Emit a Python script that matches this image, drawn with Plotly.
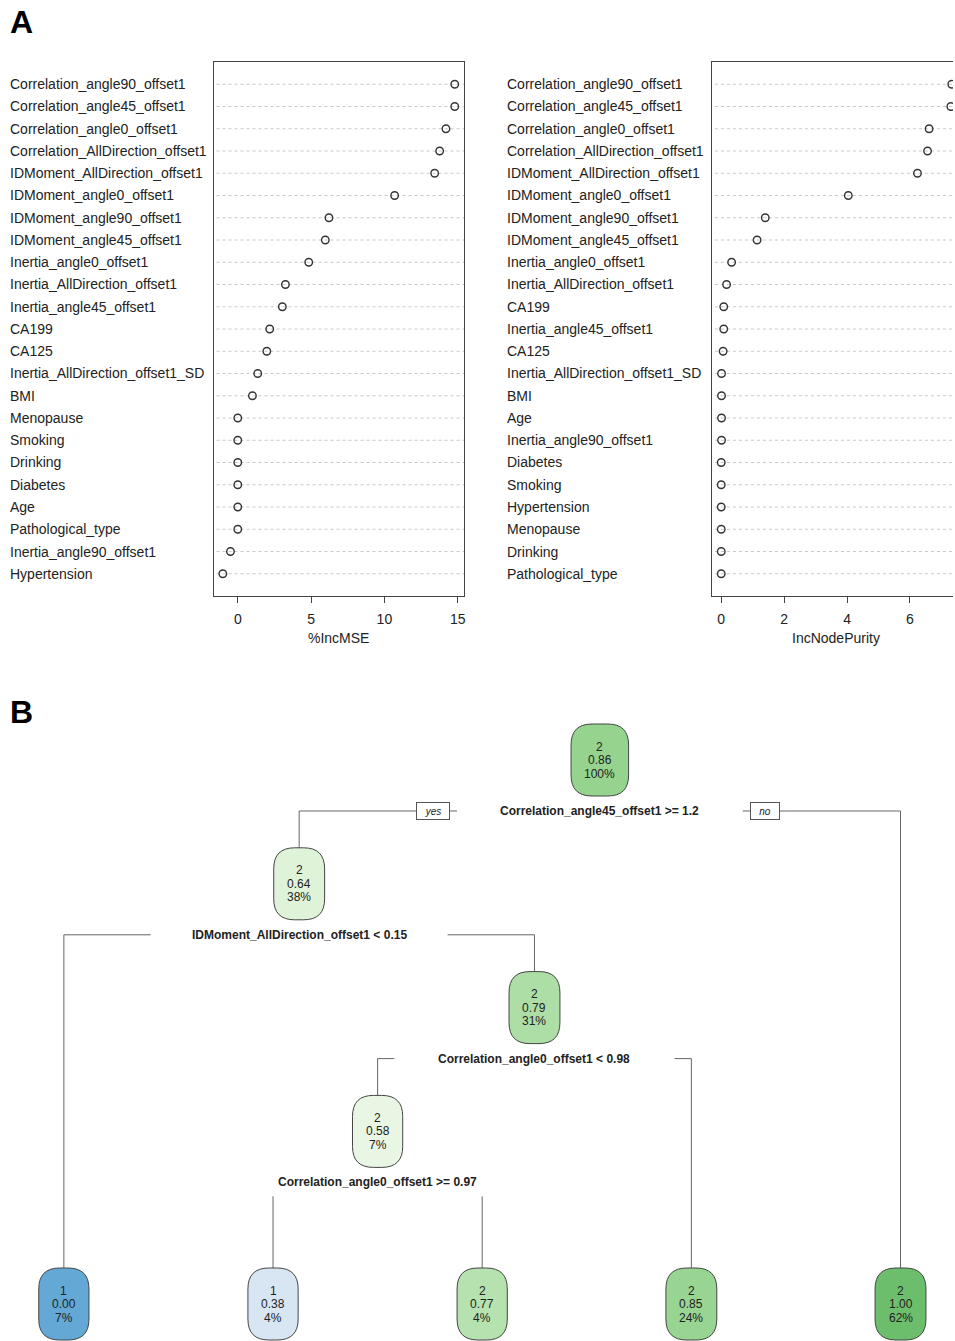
import plotly.graph_objects as go

W, H = 955, 1341
FONT = "Liberation Sans, Arial, Helvetica, sans-serif"
TXT = "#222222"

# ---------------- Panel A data ----------------
mse_vars = ["Correlation_angle90_offset1", "Correlation_angle45_offset1", "Correlation_angle0_offset1",
            "Correlation_AllDirection_offset1", "IDMoment_AllDirection_offset1", "IDMoment_angle0_offset1",
            "IDMoment_angle90_offset1", "IDMoment_angle45_offset1", "Inertia_angle0_offset1",
            "Inertia_AllDirection_offset1", "Inertia_angle45_offset1", "CA199", "CA125",
            "Inertia_AllDirection_offset1_SD", "BMI", "Menopause", "Smoking", "Drinking", "Diabetes",
            "Age", "Pathological_type", "Inertia_angle90_offset1", "Hypertension"]
mse_vals = [14.8, 14.8, 14.2, 13.77, 13.43, 10.7, 6.22, 5.97, 4.84, 3.25, 3.04, 2.18, 1.98,
            1.36, 1.0, 0.0, 0.0, 0.0, 0.0, 0.0, 0.0, -0.5, -1.02]

purity_vars = ["Correlation_angle90_offset1", "Correlation_angle45_offset1", "Correlation_angle0_offset1",
               "Correlation_AllDirection_offset1", "IDMoment_AllDirection_offset1", "IDMoment_angle0_offset1",
               "IDMoment_angle90_offset1", "IDMoment_angle45_offset1", "Inertia_angle0_offset1",
               "Inertia_AllDirection_offset1", "CA199", "Inertia_angle45_offset1", "CA125",
               "Inertia_AllDirection_offset1_SD", "BMI", "Age", "Inertia_angle90_offset1", "Diabetes",
               "Smoking", "Hypertension", "Menopause", "Drinking", "Pathological_type"]
purity_vals = [7.33, 7.30, 6.61, 6.56, 6.24, 4.04, 1.40, 1.14, 0.33, 0.17, 0.08, 0.08, 0.06,
               0.01, 0.01, 0.01, 0.01, 0.0, 0.0, 0.0, 0.0, 0.0, 0.0]

mse_ticks = [0, 5, 10, 15]
purity_ticks = [0, 2, 4, 6]

# ---------------- Panel B data (rpart tree) ----------------
node_id = [1, 2, 4, 5, 10, 20, 21, 11, 3]
node_class = ["2", "2", "1", "2", "2", "1", "2", "2", "2"]
node_prob = [0.86, 0.64, 0.00, 0.79, 0.58, 0.38, 0.77, 0.85, 1.00]
node_pct = [100, 38, 7, 31, 7, 4, 4, 24, 62]
split_node = [1, 2, 5, 10]
split_label = ["Correlation_angle45_offset1 >= 1.2", "IDMoment_AllDirection_offset1 < 0.15",
               "Correlation_angle0_offset1 < 0.98", "Correlation_angle0_offset1 >= 0.97"]


# ---------------- layout helpers (pixel geometry -> paper) ----------------
def px_x(p):
    return p / W


def px_y(p):
    return 1 - p / H


fig = go.Figure()

A_TOP, A_BOT = 62, 596
L_LEFT, L_RIGHT = 214, 465
R_LEFT, R_RIGHT_FULL = 713.5, 963


def rpad(vals):
    lo, hi = min(vals), max(vals)
    sp = hi - lo
    return lo - 0.04 * sp, hi + 0.04 * sp


n = len(mse_vars)
ypos = [n - i for i in range(n)]

mk = dict(symbol="circle-open", size=7.5, color="#333333", line=dict(width=1.4))
fig.add_trace(go.Scatter(x=mse_vals, y=ypos, mode="markers", xaxis="x", yaxis="y",
                         marker=mk, hoverinfo="skip"))
fig.add_trace(go.Scatter(x=purity_vals, y=ypos, mode="markers", xaxis="x2", yaxis="y2",
                         marker=mk, hoverinfo="skip", cliponaxis=True))

lx0, lx1 = rpad(mse_vals)
rx0, rx1 = rpad(purity_vals)
# right panel is clipped by the page edge
rx1_vis = rx0 + (W - R_LEFT) / (R_RIGHT_FULL - R_LEFT) * (rx1 - rx0)

ann = []
shapes = []
for i in range(n):
    for xr, yr in (("x domain", "y"), ("x2 domain", "y2")):
        shapes.append(dict(type="line", xref=xr, yref=yr, x0=0.012, x1=1, y0=ypos[i], y1=ypos[i],
                           line=dict(color="#c8c8c8", width=1, dash="dot"), layer="below"))
    ann.append(dict(text=mse_vars[i], xref="paper", yref="y", x=px_x(8), y=ypos[i], xanchor="left",
                    yanchor="middle", showarrow=False, font=dict(size=14, color=TXT, family=FONT)))
    ann.append(dict(text=purity_vars[i], xref="paper", yref="y2", x=px_x(506), y=ypos[i], xanchor="left",
                    yanchor="middle", showarrow=False, font=dict(size=14, color=TXT, family=FONT)))

ann.append(dict(text="%IncMSE", xref="paper", yref="paper", x=px_x((L_LEFT + L_RIGHT) / 2), y=px_y(638),
                xanchor="center", yanchor="middle", showarrow=False, font=dict(size=14, color=TXT, family=FONT)))
ann.append(dict(text="IncNodePurity", xref="paper", yref="paper", x=px_x((R_LEFT + R_RIGHT_FULL) / 2),
                y=px_y(638), xanchor="center", yanchor="middle", showarrow=False,
                font=dict(size=14, color=TXT, family=FONT)))
ann.append(dict(text="<b>A</b>", xref="paper", yref="paper", x=px_x(22), y=px_y(22), xanchor="center",
                yanchor="middle", showarrow=False, font=dict(size=32, color="#000000", family=FONT)))
ann.append(dict(text="<b>B</b>", xref="paper", yref="paper", x=px_x(22), y=px_y(712), xanchor="center",
                yanchor="middle", showarrow=False, font=dict(size=32, color="#000000", family=FONT)))
axis_common = dict(showgrid=False, zeroline=False, linecolor="#444444", linewidth=1)

# ---------------- Tree layout ----------------
XU, YU = 209.6, 123.8           # px per layout unit
LEAF0_PX, ROOT_PX = 64, 760      # pixel anchors
T_TOP = 700
LEAF_LEVEL = (1304 - ROOT_PX) / YU

info = {nid: dict(cls=c, p=p, pct=pc) for nid, c, p, pc in zip(node_id, node_class, node_prob, node_pct)}
ids = set(node_id)


def children(k):
    return [c for c in (2 * k, 2 * k + 1) if c in ids]


pos = {}
leaf_counter = [0]


def place(k, depth):
    ch = children(k)
    if not ch:
        pos[k] = (leaf_counter[0], LEAF_LEVEL)
        leaf_counter[0] += 1
    else:
        xs = [place(c, depth + 1) for c in ch]
        pos[k] = (sum(xs) / len(xs), depth)
    return pos[k][0]


place(1, 0)


def colour(cls, p):
    if cls == "2":
        stops = [(0.5, (242, 250, 239)), (0.6, (229, 245, 224)), (0.7, (214, 239, 207)),
                 (0.8, (168, 220, 162)), (0.9, (136, 205, 130)), (1.0, (108, 190, 108))]
    else:
        stops = [(0.0, (100, 168, 214)), (0.4, (222, 233, 246)), (0.5, (238, 244, 251))]
    for (a, ca), (b, cb) in zip(stops[:-1], stops[1:]):
        if a <= p <= b:
            t = (p - a) / (b - a)
            c = [round(ca[j] + t * (cb[j] - ca[j])) for j in range(3)]
            return "rgb(%d,%d,%d)" % tuple(c)
    c = stops[-1][1] if p > stops[-1][0] else stops[0][1]
    return "rgb(%d,%d,%d)" % c


CW = {"%": 10.67, ".": 3.33}


def textw(s):
    return sum(CW.get(ch, 6.67) for ch in s)


HH = 36 / YU
R = 21
for k, d in info.items():
    x, y = pos[k]
    lines = [d["cls"], "%.2f" % d["p"], "%d%%" % d["pct"]]
    hw = (max(textw(s) for s in lines) + 27) / 2 / XU
    rx, ry = R / XU, R / YU
    path = (f"M {x-hw+rx},{y-HH} L {x+hw-rx},{y-HH} Q {x+hw},{y-HH} {x+hw},{y-HH+ry} "
            f"L {x+hw},{y+HH-ry} Q {x+hw},{y+HH} {x+hw-rx},{y+HH} L {x-hw+rx},{y+HH} "
            f"Q {x-hw},{y+HH} {x-hw},{y+HH-ry} L {x-hw},{y-HH+ry} Q {x-hw},{y-HH} {x-hw+rx},{y-HH} Z")
    shapes.append(dict(type="path", xref="x3", yref="y3", path=path, fillcolor=colour(d["cls"], d["p"]),
                       line=dict(color="#444444", width=1), layer="above"))
    for s, sh in zip(lines, (13.5, 0, -13.5)):
        ann.append(dict(text=s, xref="x3", yref="y3", x=x, y=y, yshift=sh, showarrow=False,
                        font=dict(size=12, color=TXT, family=FONT)))

bx, by = [], []
LBL_OFF = 51 / YU
for k, lab in zip(split_node, split_label):
    x, y = pos[k]
    yl = y + LBL_OFF
    ann.append(dict(text="<b>" + lab + "</b>", xref="x3", yref="y3", x=x, y=yl, showarrow=False,
                    font=dict(size=12, color=TXT, family=FONT)))
    hs = (len(lab) * 5.6 / 2 + 48) / XU
    for c in children(k):
        cx, cy = pos[c]
        top = cy - HH
        if abs(cx - x) > hs:
            sx = x - hs if cx < x else x + hs
            bx += [sx, cx, cx, None]
            by += [yl, yl, top, None]
        else:
            bx += [cx, cx, None]
            by += [yl + 14 / YU, top, None]
    if k == 1:
        ann.append(dict(text="<i>yes</i>", xref="x3", yref="y3", x=x - hs - 24 / XU, y=yl, showarrow=False,
                        font=dict(size=10, color=TXT, family=FONT), bgcolor="white", bordercolor="#555555",
                        borderwidth=1, borderpad=2, width=28, height=12))
        ann.append(dict(text="<i>no</i>", xref="x3", yref="y3", x=x + hs + 22 / XU, y=yl, showarrow=False,
                        font=dict(size=10, color=TXT, family=FONT), bgcolor="white", bordercolor="#555555",
                        borderwidth=1, borderpad=2, width=24, height=12))

fig.add_trace(go.Scatter(x=bx, y=by, mode="lines", xaxis="x3", yaxis="y3",
                         line=dict(color="#666666", width=1), hoverinfo="skip"))

fig.update_layout(
    width=W, height=H, autosize=False, margin=dict(l=0, r=0, t=0, b=0),
    paper_bgcolor="white", plot_bgcolor="white", showlegend=False,
    font=dict(family=FONT, color=TXT),
    xaxis=dict(domain=[px_x(L_LEFT), px_x(L_RIGHT)], range=[lx0, lx1], tickvals=mse_ticks,
               ticks="outside", ticklen=6, tickcolor="#444444", showline=True, mirror=True,
               tickfont=dict(size=14, color=TXT), ticklabelstandoff=4, **axis_common),
    yaxis=dict(domain=[px_y(A_BOT), px_y(A_TOP)], range=[0, n + 1], showticklabels=False, ticks="",
               showline=True, mirror=True, **axis_common),
    xaxis2=dict(domain=[px_x(R_LEFT), 1], range=[rx0, rx1_vis], tickvals=purity_ticks,
                ticks="outside", ticklen=6, tickcolor="#444444", showline=True, mirror=True,
                tickfont=dict(size=14, color=TXT), ticklabelstandoff=4, anchor="y2", **axis_common),
    yaxis2=dict(domain=[px_y(A_BOT), px_y(A_TOP)], range=[0, n + 1], showticklabels=False, ticks="",
                showline=True, mirror=False, anchor="x2", **axis_common),
    xaxis3=dict(domain=[0, 1], range=[-LEAF0_PX / XU, (W - LEAF0_PX) / XU], visible=False, anchor="y3"),
    yaxis3=dict(domain=[0, px_y(T_TOP)], range=[(H - ROOT_PX) / YU, -(ROOT_PX - T_TOP) / YU],
                visible=False, anchor="x3"),
    shapes=shapes, annotations=ann,
)

# remove the browser's default 8px body margin so the figure fills the 955x1341 window exactly
fig.write_html("out.html", config={"displayModeBar": False},
               post_script="document.body.style.margin='0';document.body.style.overflow='hidden';")
